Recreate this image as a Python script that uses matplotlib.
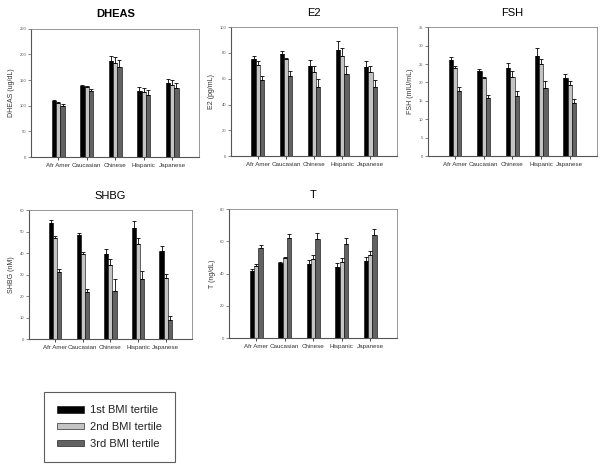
import matplotlib
matplotlib.use("Agg")
import matplotlib.pyplot as plt
import numpy as np

plt.rcParams["font.family"] = ["Liberation Sans", "DejaVu Sans"]

groups = ["Afr Amer", "Caucasian", "Chinese", "Hispanic", "Japanese"]
tertiles = ["1st BMI tertile", "2nd BMI tertile", "3rd BMI tertile"]

# bar heights and top of error bar, one row per tertile
dheas_val = [[109, 138, 187, 129, 144], [106, 136, 184, 127, 141], [100, 128, 175, 120, 134]]
dheas_err = [[112, 140, 197, 137, 151], [108, 138, 195, 134, 150], [103, 133, 189, 130, 145]]
e2_val = [[75.3, 79.5, 69.6, 82, 68.8], [71, 75, 65, 77.7, 65], [59, 62, 54, 64, 54]]
e2_err = [[78, 81.3, 74.3, 89, 74], [73.5, 76.4, 69.6, 83.6, 69.6], [62, 65.7, 59.5, 70, 58.7]]
fsh_val = [[26, 23.1, 23.9, 27.1, 21.1], [23.8, 21.2, 21.6, 24.9, 19.2], [17.8, 15.9, 16.2, 18.6, 14.5]]
fsh_err = [[27, 23.6, 25.4, 29.3, 22.4], [24.6, 21.5, 23.1, 26.5, 20.5], [18.8, 16.6, 17.6, 20.3, 15.5]]
shbg_val = [[54, 48.6, 39.7, 51.7, 41], [47, 39.7, 34.4, 44.4, 28.4], [31, 21.9, 22.5, 27.9, 9]]
shbg_err = [[55.6, 49.4, 41.7, 55.1, 43.5], [48, 40.4, 37.3, 47.2, 30.2], [32.7, 23.1, 27.8, 31.9, 10.6]]
t_val = [[41.6, 46.4, 46, 43.9, 47.8], [45, 49.5, 48.9, 47, 51.3], [55.9, 62, 61.4, 58.4, 63.9]]
t_err = [[42.7, 47.2, 48.5, 46.4, 50.1], [46, 50.1, 51.8, 49.7, 54], [57.9, 64.3, 65.4, 62, 68]]

colors = ["#000000", "#c4c4c4", "#626262"]

fig = plt.figure(figsize=(6, 4.69), dpi=100)

# (title, ylabel, vals, errs, ymax, ystep, rect, bold title)
panels = [
    ("DHEAS", "DHEAS (ug/dL)", dheas_val, dheas_err, 250, 50, [0.052, 0.665, 0.280, 0.274], True),
    ("E2", "E2 (pg/mL)", e2_val, e2_err, 100, 20, [0.385, 0.667, 0.277, 0.275], False),
    ("FSH", "FSH (mIU/mL)", fsh_val, fsh_err, 35, 5, [0.713, 0.667, 0.282, 0.275], False),
    ("SHBG", "SHBG (nM)", shbg_val, shbg_err, 60, 10, [0.048, 0.277, 0.272, 0.275], False),
    ("T", "T (ng/dL)", t_val, t_err, 80, 20, [0.382, 0.279, 0.280, 0.275], False),
]

x = np.arange(len(groups))
w = 0.15
handles = []
for title, ylab, vals, errs, ymax, ystep, rect, bold in panels:
    ax = fig.add_axes(rect)
    for i in range(3):
        v = np.array(vals[i]); e = np.array(errs[i])
        b = ax.bar(x + (i - 1) * w, v, w, color=colors[i], edgecolor="black", linewidth=0.4,
                   yerr=[np.zeros_like(v), e - v], error_kw=dict(ecolor="black", elinewidth=0.6, capsize=1.5, capthick=0.6))
        if len(handles) < 3:
            handles.append(b)
    ax.set_xlim(-0.95, 4.95); ax.set_ylim(0, ymax)
    ax.set_yticks(np.arange(0, ymax + 0.01, ystep))
    ax.tick_params(axis="y", labelsize=3, length=2, width=0.5, pad=1.5, colors="#555555")
    ax.set_xticks(x)
    ax.set_xticklabels(groups, fontsize=4.5, color="#333333")
    ax.tick_params(axis="x", length=2, width=0.5, pad=2.5)
    ax.set_ylabel(ylab, fontsize=5, color="#333333", labelpad=3)
    ax.set_title(title, fontsize=8, fontweight="bold" if bold else "normal", pad=8)
    for s in ["top", "right"]:
        ax.spines[s].set_color("#888888"); ax.spines[s].set_linewidth(0.6)
    for s in ["left", "bottom"]:
        ax.spines[s].set_color("#555555"); ax.spines[s].set_linewidth(0.8)

leg = fig.legend(handles, tertiles, loc="upper left", bbox_to_anchor=(44 / 600, 1 - 392 / 469),
                 fontsize=8, frameon=True, fancybox=False, edgecolor="#333333",
                 handlelength=2.4, handleheight=0.5, handletextpad=0.55, labelspacing=0.6,
                 borderpad=1.2, borderaxespad=0)
leg.get_frame().set_linewidth(0.8)
for t in leg.get_texts():
    t.set_color("#222222")

fig.savefig("out.png", dpi=100)
